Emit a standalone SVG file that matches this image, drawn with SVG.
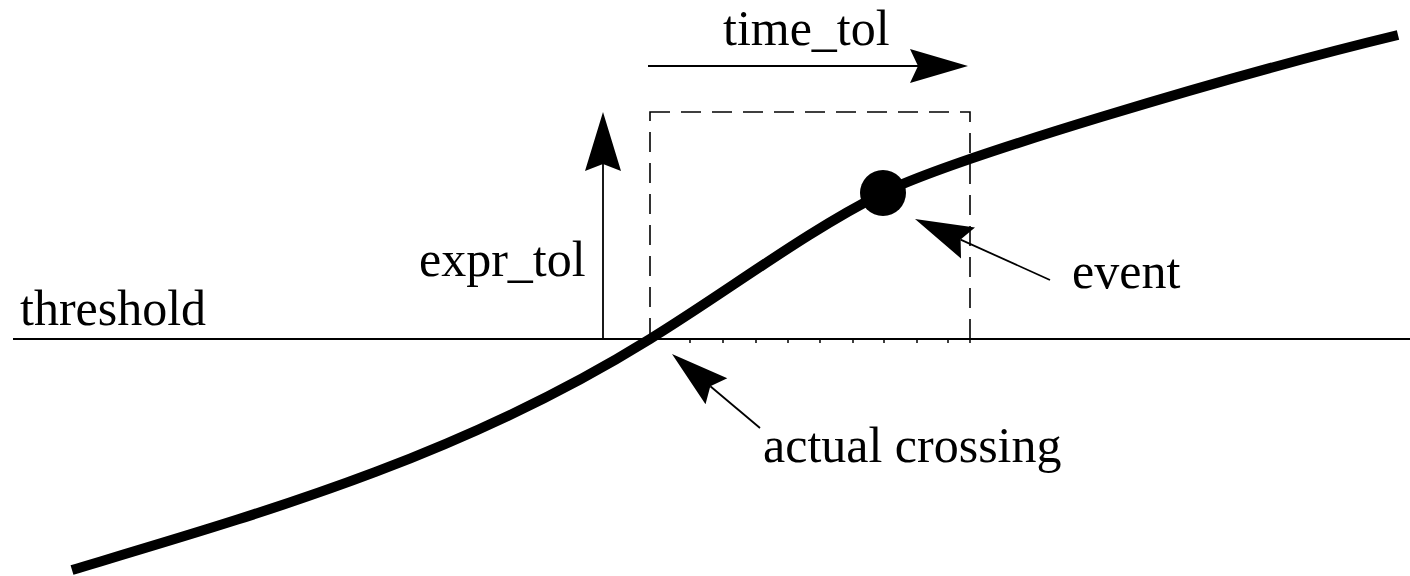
<svg xmlns="http://www.w3.org/2000/svg" width="1410" height="576" viewBox="0 0 1410 576">
<style>
  text { font-family: "Liberation Serif", "Times New Roman", serif; font-size: 50px; fill: #000; }
  .thin { stroke: #000; stroke-width: 1.8; fill: none; }
  .head { fill: #000; stroke: none; }
  .tick { stroke: #000; stroke-width: 1.5; }
</style>
<rect width="1410" height="576" fill="#fff"/>
<g id="threshold">
  <line class="thin" x1="13" y1="339" x2="1410" y2="339"/>
  <g id="ticks">
    <line class="tick" x1="690" y1="339" x2="690" y2="343"/>
    <line class="tick" x1="723" y1="339" x2="723" y2="343"/>
    <line class="tick" x1="756" y1="339" x2="756" y2="343"/>
    <line class="tick" x1="788" y1="339" x2="788" y2="343"/>
    <line class="tick" x1="820" y1="339" x2="820" y2="343"/>
    <line class="tick" x1="853" y1="339" x2="853" y2="343"/>
    <line class="tick" x1="884" y1="339" x2="884" y2="343"/>
    <line class="tick" x1="917" y1="339" x2="917" y2="343"/>
    <line class="tick" x1="948" y1="339" x2="948" y2="343"/>
    <line class="tick" x1="970" y1="339" x2="970" y2="343"/>
  </g>
  <text x="20" y="325">threshold</text>
</g>
<g id="tolerance-box">
  <rect x="650" y="112" width="320" height="227" fill="none" stroke="#000" stroke-width="1.6" stroke-dasharray="20 11"/>
</g>
<g id="signal">
  <path d="M72,570 C262,513 460,457 650,339 C728,291 805,232 883,193 C950,159.5 1228,76 1398,35" fill="none" stroke="#000" stroke-width="10"/>
</g>
<g id="event">
  <circle cx="883" cy="193" r="23" fill="#000"/>
  <text x="1072" y="288">event</text>
</g>
<g id="time_tol">
  <text x="723" y="45">time_tol</text>
</g>
<g id="expr_tol">
  <text x="419" y="276">expr_tol</text>
</g>
<g id="actual-crossing">
  <text x="763" y="462">actual crossing</text>
</g>
<g id="connectors">
  <line class="thin" x1="648" y1="66" x2="918" y2="66"/>
  <polygon class="head" points="968,66 910,49 918,66 910,83"/>
  <line class="thin" x1="603" y1="339" x2="603" y2="164"/>
  <polygon class="head" points="603,112 585,171 603,164 621,171"/>
  <line class="thin" x1="1050" y1="280" x2="960.6" y2="239.6"/>
  <polygon class="head" points="915,219 975,227.5 960.6,239.6 961,258.5"/>
  <line class="thin" x1="760" y1="428" x2="710.3" y2="386.2"/>
  <polygon class="head" points="672,354 727.3,378.3 710.3,386.2 705.5,404.3"/>
</g>
</svg>
